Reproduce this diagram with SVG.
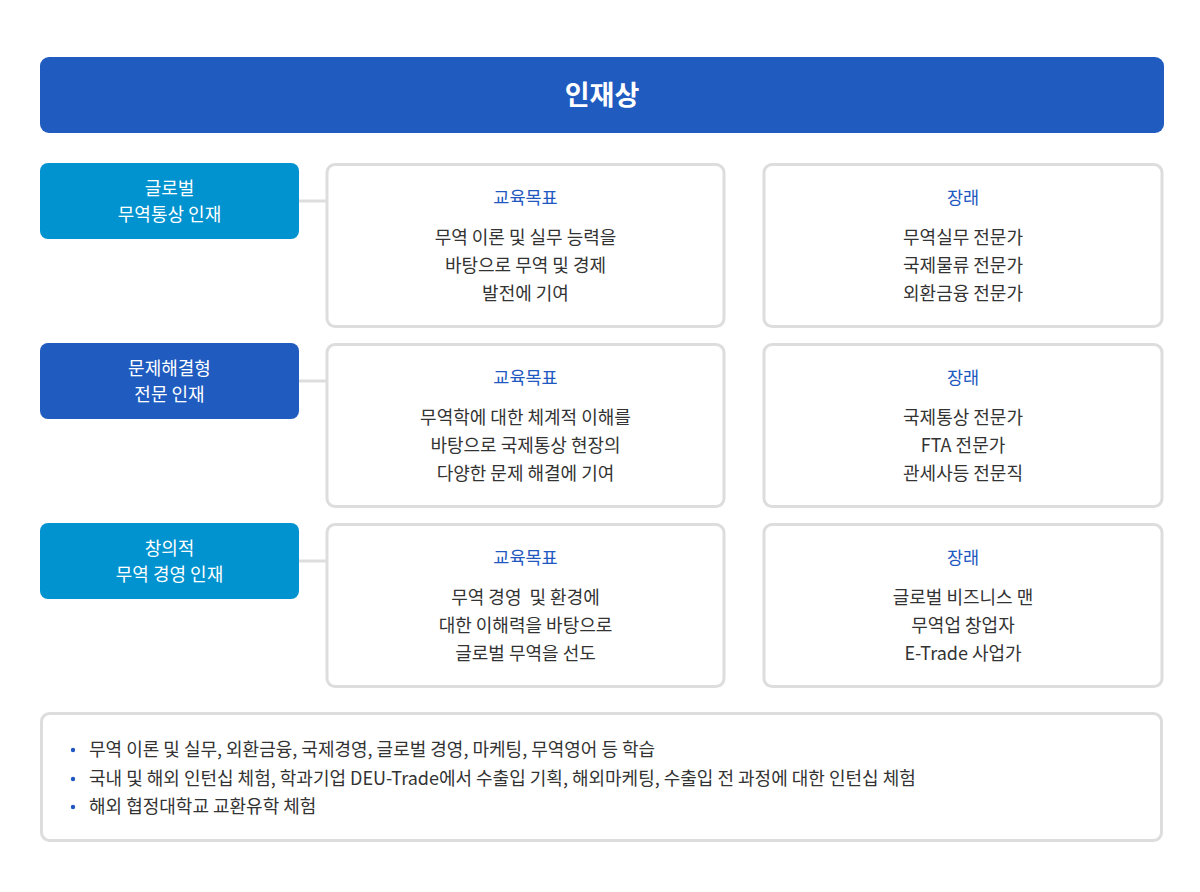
<svg xmlns="http://www.w3.org/2000/svg" width="1200" height="892" viewBox="0 0 1200 892">
<style>
text{font-family:"Noto Sans CJK KR","Noto Sans",sans-serif}
.hd{fill:#205BBF}
.cy{fill:#0093CF}
.bl{fill:#205BBF}
.lt{fill:#fff;font-size:18px;text-anchor:middle}
.card{fill:#fff;stroke:#DDDDDD;stroke-width:3}
.ttl{fill:#2057C0;font-size:17.5px;text-anchor:middle}
.bd{fill:#333;font-size:18px;text-anchor:middle}
.li{fill:#333;font-size:18px}
.dot{fill:#2057C0}
.con{stroke:#DDDDDD;stroke-width:3;fill:none}
</style>
<rect width="1200" height="892" fill="#fff"/>
<g id="header">
<rect x="40" y="57" width="1124" height="76" rx="9" class="hd"/>
<text x="602" y="105" fill="#fff" font-size="27" font-weight="bold" text-anchor="middle">인재상</text>
</g>
<g id="connectors">
<line x1="299" y1="201" x2="327" y2="201" class="con"/>
<line x1="299" y1="381" x2="327" y2="381" class="con"/>
<line x1="299" y1="561" x2="327" y2="561" class="con"/>
</g>
<g id="talent1">
<rect x="40" y="163" width="259" height="76" rx="8" class="cy"/>
<text x="169.5" y="195" class="lt">글로벌</text>
<text x="169.5" y="221" class="lt">무역통상 인재</text>
</g>
<g id="goal1">
<rect x="327" y="164.5" width="397" height="162" rx="8" class="card"/>
<text x="525.5" y="204" class="ttl">교육목표</text>
<text x="525.5" y="244" class="bd">무역 이론 및 실무 능력을</text>
<text x="525.5" y="272" class="bd">바탕으로 무역 및 경제</text>
<text x="525.5" y="300" class="bd">발전에 기여</text>
</g>
<g id="future1">
<rect x="764" y="164.5" width="398" height="162" rx="8" class="card"/>
<text x="963" y="204" class="ttl">장래</text>
<text x="963" y="244" class="bd">무역실무 전문가</text>
<text x="963" y="272" class="bd">국제물류 전문가</text>
<text x="963" y="300" class="bd">외환금융 전문가</text>
</g>
<g id="talent2">
<rect x="40" y="343" width="259" height="76" rx="8" class="bl"/>
<text x="169.5" y="375" class="lt">문제해결형</text>
<text x="169.5" y="401" class="lt">전문 인재</text>
</g>
<g id="goal2">
<rect x="327" y="344.5" width="397" height="162" rx="8" class="card"/>
<text x="525.5" y="384" class="ttl">교육목표</text>
<text x="525.5" y="424" class="bd">무역학에 대한 체계적 이해를</text>
<text x="525.5" y="452" class="bd">바탕으로 국제통상 현장의</text>
<text x="525.5" y="480" class="bd">다양한 문제 해결에 기여</text>
</g>
<g id="future2">
<rect x="764" y="344.5" width="398" height="162" rx="8" class="card"/>
<text x="963" y="384" class="ttl">장래</text>
<text x="963" y="424" class="bd">국제통상 전문가</text>
<text x="963" y="452" class="bd">FTA 전문가</text>
<text x="963" y="480" class="bd">관세사등 전문직</text>
</g>
<g id="talent3">
<rect x="40" y="523" width="259" height="76" rx="8" class="cy"/>
<text x="169.5" y="555" class="lt">창의적</text>
<text x="169.5" y="581" class="lt">무역 경영 인재</text>
</g>
<g id="goal3">
<rect x="327" y="524.5" width="397" height="162" rx="8" class="card"/>
<text x="525.5" y="564" class="ttl">교육목표</text>
<text x="525.5" y="604" class="bd" xml:space="preserve">무역 경영  및 환경에</text>
<text x="525.5" y="632" class="bd">대한 이해력을 바탕으로</text>
<text x="525.5" y="660" class="bd">글로벌 무역을 선도</text>
</g>
<g id="future3">
<rect x="764" y="524.5" width="398" height="162" rx="8" class="card"/>
<text x="963" y="564" class="ttl">장래</text>
<text x="963" y="604" class="bd">글로벌 비즈니스 맨</text>
<text x="963" y="632" class="bd">무역업 창업자</text>
<text x="963" y="660" class="bd">E-Trade 사업가</text>
</g>
<g id="notes">
<rect x="41.5" y="713.5" width="1120" height="127" rx="8" class="card"/>
<circle cx="73" cy="750" r="2.2" class="dot"/>
<circle cx="73" cy="779" r="2.2" class="dot"/>
<circle cx="73" cy="807" r="2.2" class="dot"/>
<text x="89" y="756" class="li">무역 이론 및 실무, 외환금융, 국제경영, 글로벌 경영, 마케팅, 무역영어 등 학습</text>
<text x="89" y="785" class="li">국내 및 해외 인턴십 체험, 학과기업 DEU-Trade에서 수출입 기획, 해외마케팅, 수출입 전 과정에 대한 인턴십 체험</text>
<text x="89" y="813" class="li">해외 협정대학교 교환유학 체험</text>
</g>
</svg>
